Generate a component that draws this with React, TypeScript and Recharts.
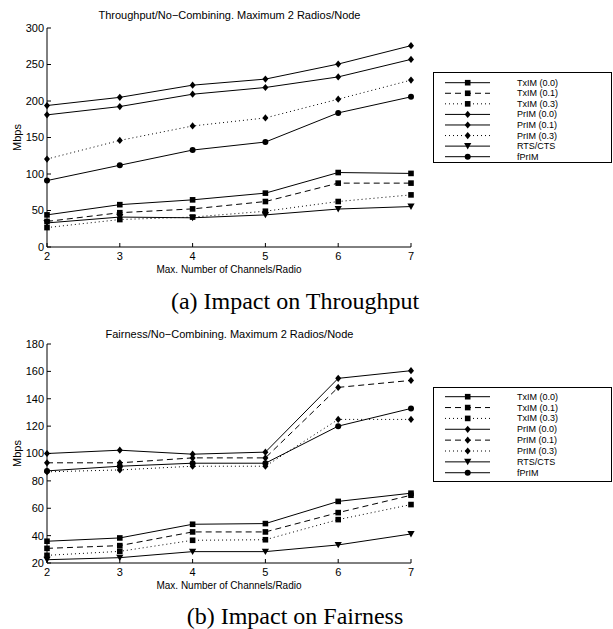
import { Legend, Line, LineChart, XAxis, YAxis } from 'recharts'

const channels = [2, 3, 4, 5, 6, 7]

// (a) throughput, Mbps
const thrTxim00 = [44, 58, 64.6, 73.8, 102, 100.8]
const thrTxim01 = [35, 47, 52.2, 62.3, 87.5, 87.5]
const thrTxim03 = [26.6, 37.6, 41, 49, 62.3, 71.4]
const thrPrim00 = [193.8, 205, 221.7, 230, 250.6, 275.8]
const thrPrim01 = [181, 192.4, 209.3, 218.5, 233, 257]
const thrPrim03 = [120.5, 146, 165.8, 176.8, 202.5, 228.6]
const thrRts = [33, 41, 40, 44, 52, 55.4]
const thrFprim = [91, 112, 132.8, 143.8, 183.7, 205.7]
const thrTicks = [0, 50, 100, 150, 200, 250, 300]

// (b) fairness, Mbps
const fairTxim00 = [35.9, 38.3, 48.3, 48.8, 65, 71]
const fairTxim01 = [30.7, 32.7, 42.7, 42.7, 56.8, 69.5]
const fairTxim03 = [25.6, 28.5, 36.6, 37, 51.7, 62.7]
const fairPrim00 = [100, 102.4, 99.5, 101, 154.9, 160.5]
const fairPrim01 = [93.2, 93.2, 96.8, 96.8, 148.3, 153.4]
const fairPrim03 = [86.6, 88, 90.7, 90.7, 124.9, 124.9]
const fairRts = [22.4, 23.9, 28.3, 28.3, 33.2, 41.2]
const fairFprim = [87.3, 90.7, 92.9, 92.9, 120, 132.9]
const fairTicks = [20, 40, 60, 80, 100, 120, 140, 160, 180]

const SANS = '"Liberation Sans", Arial, Helvetica, sans-serif'
const SERIF = '"Liberation Serif", "Times New Roman", serif'
const DASHED = '6 4'
const DOTTED = '1 3'

type MarkerKind = 'square' | 'diamond' | 'triangle' | 'circle'

const SERIES: { key: string; name: string; marker: MarkerKind }[] = [
  { key: 'txim00', name: 'TxIM (0.0)', marker: 'square' },
  { key: 'txim01', name: 'TxIM (0.1)', marker: 'square' },
  { key: 'txim03', name: 'TxIM (0.3)', marker: 'square' },
  { key: 'prim00', name: 'PrIM (0.0)', marker: 'diamond' },
  { key: 'prim01', name: 'PrIM (0.1)', marker: 'diamond' },
  { key: 'prim03', name: 'PrIM (0.3)', marker: 'diamond' },
  { key: 'rts', name: 'RTS/CTS', marker: 'triangle' },
  { key: 'fprim', name: 'fPrIM', marker: 'circle' },
]

const buildRows = (cols: Record<string, number[]>) =>
  channels.map((c, i) => {
    const row: Record<string, number> = { x: c }
    Object.keys(cols).forEach((k) => {
      row[k] = cols[k][i]
    })
    return row
  })

const thrData = buildRows({
  txim00: thrTxim00,
  txim01: thrTxim01,
  txim03: thrTxim03,
  prim00: thrPrim00,
  prim01: thrPrim01,
  prim03: thrPrim03,
  rts: thrRts,
  fprim: thrFprim,
})

const fairData = buildRows({
  txim00: fairTxim00,
  txim01: fairTxim01,
  txim03: fairTxim03,
  prim00: fairPrim00,
  prim01: fairPrim01,
  prim03: fairPrim03,
  rts: fairRts,
  fprim: fairFprim,
})

const thrDashes: Record<string, string | undefined> = {
  txim01: DASHED,
  txim03: DOTTED,
  prim03: DOTTED,
}
const fairDashes: Record<string, string | undefined> = {
  txim01: DASHED,
  txim03: DOTTED,
  prim01: DASHED,
  prim03: DOTTED,
}

const Marker = ({ kind, cx, cy }: { kind: MarkerKind; cx: number; cy: number }) => {
  if (kind === 'square') return <rect x={cx - 2.8} y={cy - 2.8} width={5.6} height={5.6} fill="#000" />
  if (kind === 'diamond')
    return <polygon points={`${cx},${cy - 3.6} ${cx + 3},${cy} ${cx},${cy + 3.6} ${cx - 3},${cy}`} fill="#000" />
  if (kind === 'triangle')
    return <polygon points={`${cx - 3.6},${cy - 3} ${cx + 3.6},${cy - 3} ${cx},${cy + 3.4}`} fill="#000" />
  return <circle cx={cx} cy={cy} r={3} fill="#000" />
}

type BoxProps = { dashes: Record<string, string | undefined>; width: number; height: number; first: number; gap: number }

const LegendBox = ({ dashes, width, height, first, gap }: BoxProps) => (
  <svg width={width} height={height} style={{ display: 'block' }}>
    <rect x={0.5} y={0.5} width={width - 1} height={height - 1} fill="#fff" stroke="#000" />
    {SERIES.map((s, i) => {
      const y = first + i * gap
      return (
        <g key={s.key}>
          <line x1={12} x2={57} y1={y} y2={y} stroke="#000" strokeWidth={1} strokeDasharray={dashes[s.key]} />
          <Marker kind={s.marker} cx={34.7} cy={y} />
          <text x={84} y={y} dominantBaseline="central" fontSize={9} fontFamily={SANS} fill="#000">
            {s.name}
          </text>
        </g>
      )
    })}
  </svg>
)

type PanelProps = {
  top: number
  data: Record<string, number>[]
  dashes: Record<string, string | undefined>
  ticks: number[]
  title: string
  caption: string
  marginTop: number
  xAxisHeight: number
  titleY: number
  captionY: number
  legend: { left: number; top: number; width: number; height: number; first: number; gap: number }
}

const Panel = ({ top, data, dashes, ticks, title, caption, marginTop, xAxisHeight, titleY, captionY, legend }: PanelProps) => (
  <div style={{ position: 'absolute', left: 0, top, width: 613, height: 310 }}>
    <div
      style={{
        position: 'absolute',
        left: 47,
        width: 365,
        top: titleY - 7,
        height: 14,
        lineHeight: '14px',
        textAlign: 'center',
        fontFamily: SANS,
        fontSize: 11,
        color: '#000',
        zIndex: 2,
      }}
    >
      {title}
    </div>
    <LineChart
      width={613}
      height={280}
      data={data}
      margin={{ top: marginTop, right: 202, bottom: 0, left: 0 }}
      style={{ fontFamily: SANS }}
    >
      <XAxis
        dataKey="x"
        type="number"
        domain={[2, 7]}
        ticks={channels}
        height={xAxisHeight}
        stroke="#000"
        tickSize={-4}
        tickMargin={9}
        tick={{ fontSize: 11, fill: '#000', fontFamily: SANS }}
        label={{
          content: (p: any) => (
            <text
              x={p.viewBox.x + p.viewBox.width / 2}
              y={p.viewBox.y + 22}
              textAnchor="middle"
              dominantBaseline="central"
              fontSize={10}
              fontFamily={SANS}
              fill="#000"
            >
              Max. Number of Channels/Radio
            </text>
          ),
        }}
      />
      <YAxis
        type="number"
        domain={[ticks[0], ticks[ticks.length - 1]]}
        ticks={ticks}
        width={47}
        stroke="#000"
        tickSize={-4}
        tickMargin={7}
        tick={{ fontSize: 11, fill: '#000', fontFamily: SANS }}
        label={{
          content: (p: any) => {
            const cy = p.viewBox.y + p.viewBox.height / 2
            return (
              <text
                x={17}
                y={cy}
                transform={`rotate(-90 17 ${cy})`}
                textAnchor="middle"
                dominantBaseline="central"
                fontSize={11}
                fontFamily={SANS}
                fill="#000"
              >
                Mbps
              </text>
            )
          },
        }}
      />
      <Legend
        layout="horizontal"
        align="center"
        verticalAlign="middle"
        wrapperStyle={{ position: 'absolute', left: legend.left, top: legend.top, width: legend.width, height: legend.height }}
        content={() => (
          <LegendBox dashes={dashes} width={legend.width} height={legend.height} first={legend.first} gap={legend.gap} />
        )}
      />
      {SERIES.map((s) => (
        <Line
          key={s.key}
          dataKey={s.key}
          name={s.name}
          type="linear"
          stroke="#000"
          strokeWidth={1}
          strokeDasharray={dashes[s.key]}
          isAnimationActive={false}
          dot={(p: any) => <Marker key={`${s.key}-${p.index}`} kind={s.marker} cx={p.cx} cy={p.cy} />}
          activeDot={false}
        />
      ))}
    </LineChart>
    <div
      style={{
        position: 'absolute',
        left: 0,
        width: 590,
        top: captionY - 15,
        height: 30,
        lineHeight: '30px',
        textAlign: 'center',
        fontFamily: SERIF,
        fontSize: 24,
        color: '#000',
      }}
    >
      {caption}
    </div>
  </div>
)

export default function App() {
  return (
    <div style={{ position: 'absolute', left: 0, top: 0, width: 613, height: 629, background: '#fff', overflow: 'hidden' }}>
      <Panel
        top={0}
        data={thrData}
        dashes={thrDashes}
        ticks={thrTicks}
        title="Throughput/No−Combining. Maximum 2 Radios/Node"
        caption="(a) Impact on Throughput"
        marginTop={28}
        xAxisHeight={33}
        titleY={15}
        captionY={301}
        legend={{ left: 433, top: 72, width: 179, height: 91, first: 10.7, gap: 10.57 }}
      />
      <Panel
        top={320}
        data={fairData}
        dashes={fairDashes}
        ticks={fairTicks}
        title="Fairness/No−Combining. Maximum 2 Radios/Node"
        caption="(b) Impact on Fairness"
        marginTop={24}
        xAxisHeight={37}
        titleY={14}
        captionY={296}
        legend={{ left: 433, top: 67, width: 179, height: 95, first: 9.7, gap: 10.86 }}
      />
    </div>
  )
}
